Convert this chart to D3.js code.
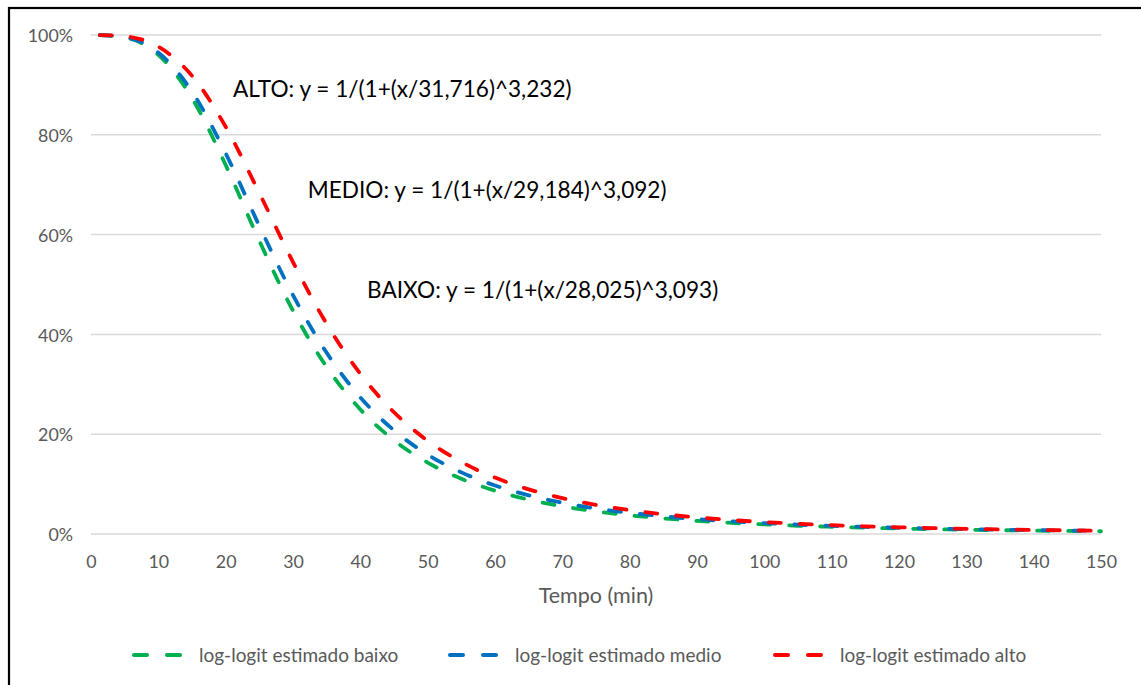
<!DOCTYPE html>
<html>
<head>
<meta charset="utf-8">
<script src="https://cdn.jsdelivr.net/npm/d3@7"></script>
<style>
  html, body { margin: 0; padding: 0; background: #fff; }
  svg { display: block; }
  text { font-family: Lato, "Open Sans", sans-serif; }
</style>
</head>
<body>
<svg id="chart" width="1141" height="685"></svg>
<script>
// Time axis (minutes) and estimated survival fractions for each group
const tempo = [1, 5, 10, 15, 20, 25, 30, 35, 40, 45, 50, 55, 60, 65, 70, 75, 80, 85, 90, 95,
  100, 105, 110, 115, 120, 125, 130, 135, 140, 145, 150];
const baixo = [1.0, 0.99519, 0.96036, 0.87361, 0.73951, 0.58741, 0.44753, 0.33461, 0.24966, 0.18775,
  0.14300, 0.11052, 0.08671, 0.06900, 0.05565, 0.04544, 0.03753, 0.03130, 0.02637, 0.02240,
  0.01918, 0.01654, 0.01435, 0.01253, 0.01100, 0.00971, 0.00861, 0.00767, 0.00686, 0.00616, 0.00555];
const medio = [1.0, 0.99574, 0.96483, 0.88675, 0.76286, 0.61739, 0.47870, 0.36311, 0.27393, 0.20768,
  0.15913, 0.12353, 0.09722, 0.07756, 0.06267, 0.05125, 0.04237, 0.03539, 0.02982, 0.02535,
  0.02171, 0.01873, 0.01626, 0.01420, 0.01247, 0.01101, 0.00976, 0.00870, 0.00778, 0.00699, 0.00630];
const alto = [1.0, 0.99745, 0.97658, 0.91835, 0.81611, 0.68333, 0.54481, 0.42106, 0.32082, 0.24403,
  0.18676, 0.14440, 0.11300, 0.08954, 0.07185, 0.05832, 0.04786, 0.03969, 0.03322, 0.02805,
  0.02386, 0.02045, 0.01764, 0.01532, 0.01338, 0.01174, 0.01036, 0.00918, 0.00817, 0.00730, 0.00655];

const seriesNames = ["log-logit estimado baixo", "log-logit estimado medio", "log-logit estimado alto"];
const seriesColors = ["#00b050", "#0070c0", "#ff0000"];
const xTicks = [0, 10, 20, 30, 40, 50, 60, 70, 80, 90, 100, 110, 120, 130, 140, 150];
const yTicks = [0, 0.2, 0.4, 0.6, 0.8, 1.0];
const equations = [
  "ALTO: y = 1/(1+(x/31,716)^3,232)",
  "MEDIO: y = 1/(1+(x/29,184)^3,092)",
  "BAIXO: y = 1/(1+(x/28,025)^3,093)"
];
const eqAnchor = [[21.1, 0.876], [32.2, 0.673], [41.0, 0.473]]; // [min, fraction] where each equation sits

const svg = d3.select("#chart");
const x = d3.scaleLinear().domain([0, 150]).range([91, 1101]);
const y = d3.scaleLinear().domain([0, 1]).range([534, 35]);

// outer frame
svg.append("rect").attr("x", 9).attr("y", 8).attr("width", 1150).attr("height", 700)
  .attr("fill", "none").attr("stroke", "#000").attr("stroke-width", 2.2);

// horizontal gridlines
svg.append("g").selectAll("line").data(yTicks).join("line")
  .attr("x1", x(0)).attr("x2", x(150))
  .attr("y1", d => y(d)).attr("y2", d => y(d))
  .attr("stroke", "#d9d9d9").attr("stroke-width", 1.5);

// y axis labels
const yAxis = d3.axisLeft(y).tickValues(yTicks).tickFormat(d3.format(".0%")).tickSize(0).tickPadding(0);
svg.append("g").attr("transform", "translate(73,1)").call(yAxis)
  .call(g => g.select(".domain").remove())
  .call(g => g.selectAll("text").attr("fill", "#595959").attr("font-size", 17.8)
    .attr("font-family", "Lato, sans-serif"));

// x axis labels
const xAxis = d3.axisBottom(x).tickValues(xTicks).tickSize(0).tickPadding(0);
svg.append("g").attr("transform", "translate(0,555.5)").call(xAxis)
  .call(g => g.select(".domain").remove())
  .call(g => g.selectAll("text").attr("fill", "#595959").attr("font-size", 17.8)
    .attr("font-family", "Lato, sans-serif"));

svg.append("text").attr("x", x(75)).attr("y", 603).attr("text-anchor", "middle")
  .attr("fill", "#595959").attr("font-size", 21.5).text("Tempo (min)");

// curves
const allSeries = [baixo, medio, alto];
const line = d3.line().x(d => x(d[0])).y(d => y(d[1])).curve(d3.curveMonotoneX);
allSeries.forEach((vals, i) => {
  svg.append("path")
    .attr("d", line(tempo.map((t, j) => [t, vals[j]])))
    .attr("fill", "none").attr("stroke", seriesColors[i]).attr("stroke-width", 3.8)
    .attr("stroke-linecap", "round")
    .attr("stroke-dasharray", "12,19").attr("stroke-dashoffset", -2);
});

// equation labels
equations.forEach((txt, i) => {
  svg.append("text").attr("x", x(eqAnchor[i][0])).attr("y", y(eqAnchor[i][1]))
    .attr("fill", "#000").attr("font-size", 22.6).text(txt);
});

// legend
const legendX = [132, 448, 773];
const legend = svg.append("g");
seriesNames.forEach((name, i) => {
  legend.append("line").attr("x1", legendX[i] + 2).attr("x2", legendX[i] + 48)
    .attr("y1", 655).attr("y2", 655)
    .attr("stroke", seriesColors[i]).attr("stroke-width", 4)
    .attr("stroke-linecap", "round").attr("stroke-dasharray", "13,20");
  legend.append("text").attr("x", legendX[i] + 67).attr("y", 661.5)
    .attr("fill", "#595959").attr("font-size", 19).text(name);
});
</script>
</body>
</html>
